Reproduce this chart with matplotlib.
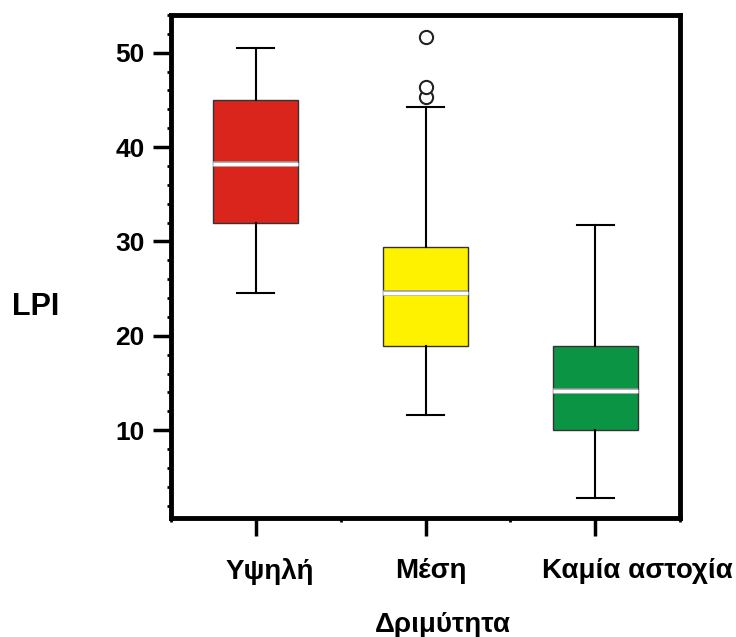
import matplotlib.pyplot as plt
import matplotlib.patheffects as pe
import matplotlib.transforms as mtransforms
from matplotlib.ticker import MultipleLocator

plt.rcParams['font.family'] = ['Liberation Sans', 'DejaVu Sans']

# Values
categories = ['Υψηλή', 'Μέση', 'Καμία αστοχία']
whisker_low = [24.5, 11.6, 2.8]
q1 = [32.0, 18.9, 10.0]
medians = [38.2, 24.5, 14.2]
q3 = [45.0, 29.4, 18.9]
whisker_high = [50.5, 44.3, 31.7]
outliers = [[], [45.3, 46.4, 51.7], []]
box_colors = ['#da251d', '#fff200', '#0b9444']

stats = []
for i, name in enumerate(categories):
    stats.append({
        'label': name,
        'whislo': whisker_low[i],
        'q1': q1[i],
        'med': medians[i],
        'q3': q3[i],
        'whishi': whisker_high[i],
        'fliers': outliers[i],
    })

fig = plt.figure(figsize=(7.36, 6.37), dpi=100)
ax = fig.add_axes([0.2323, 0.1868, 0.924 - 0.2323, 0.9765 - 0.1868])

bp = ax.bxp(
    stats, positions=[1, 2, 3], widths=0.5, patch_artist=True,
    boxprops=dict(edgecolor='#333333', linewidth=1.0),
    whiskerprops=dict(color='black', linewidth=1.5),
    capprops=dict(color='black', linewidth=1.5),
    capwidths=0.22,
    medianprops=dict(color='white', linewidth=2.5,
                     path_effects=[pe.Stroke(linewidth=4, foreground='#9a9a9a'), pe.Normal()]),
    flierprops=dict(marker='o', markerfacecolor='white', markeredgecolor='#222222',
                    markersize=9.5, markeredgewidth=1.5),
)
for patch, c in zip(bp['boxes'], box_colors):
    patch.set_facecolor(c)

ax.set_xlim(0.5, 3.5)
ax.set_ylim(0.7, 54.0)

ax.yaxis.set_major_locator(MultipleLocator(10))
ax.yaxis.set_minor_locator(MultipleLocator(2))
ax.xaxis.set_minor_locator(MultipleLocator(0.5))
ax.set_yticks([10, 20, 30, 40, 50])
ax.set_xticks([1, 2, 3])
ax.set_xticklabels(categories)

for side in ax.spines.values():
    side.set_linewidth(3.5)

ax.tick_params(axis='both', which='major', direction='out', length=13, width=2.5,
               labelsize=19, pad=6)
ax.tick_params(axis='x', which='major', labelsize=20, pad=16)
ax.tick_params(axis='both', which='minor', direction='out', length=3, width=2)
for lbl in ax.get_xticklabels() + ax.get_yticklabels():
    lbl.set_fontweight('bold')

# the original labels sit a bit right of their ticks
shifts = [14, 5, 42]
for lbl, dx in zip(ax.get_xticklabels(), shifts):
    lbl.set_transform(lbl.get_transform() +
                      mtransforms.ScaledTranslation(dx / 100, 0, fig.dpi_scale_trans))

ax.set_xlabel('Δριμύτητα', fontsize=20, fontweight='bold', va='center')
ax.xaxis.set_label_coords(0.534, -0.213)
ax.set_ylabel('LPI', fontsize=22, fontweight='bold', rotation=0, ha='center', va='center')
ax.yaxis.set_label_coords(-0.265, 0.42)

fig.savefig('out.png', dpi=100)
